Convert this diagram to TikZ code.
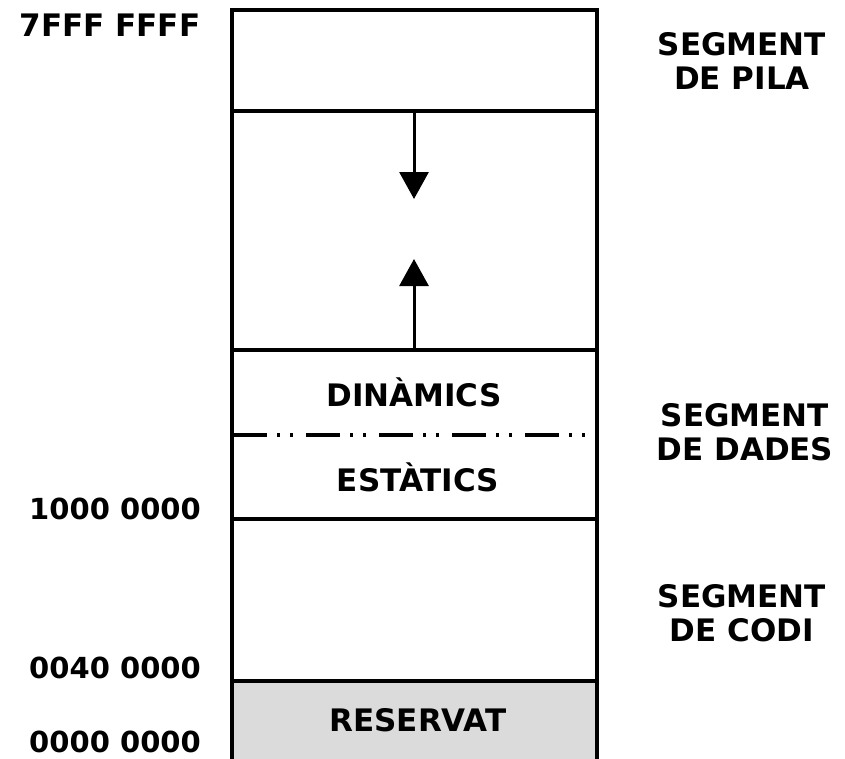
\documentclass[tikz,border=0pt]{standalone}
\usepackage{fontspec}
\setmainfont{DejaVu Sans}
\usetikzlibrary{arrows.meta}
\begin{document}
\begin{tikzpicture}[x=1pt,y=-1pt,
  seg/.style={draw=black,line width=3.5pt},
  lbl/.style={font=\fontsize{31}{34}\selectfont\bfseries,align=center,inner sep=0pt},
  addr/.style={font=\fontsize{29}{32}\selectfont\bfseries,inner sep=0pt},
  growth/.style={line width=3pt,-{Triangle[length=27pt,width=29pt]}}]
\useasboundingbox (0,0) rectangle (845,758);
% memory column
\fill[gray!28] (232,681) rectangle (597,762);
\draw[seg] (232,762) -- (232,10) -- (597,10) -- (597,762);
\draw[seg] (232,111) -- (597,111);
\draw[seg] (232,350) -- (597,350);
\draw[seg] (232,519) -- (597,519);
\draw[seg] (232,681) -- (597,681);
% boundary between dynamic and static data
\draw[line width=3.5pt,dash pattern=on 34pt off 10pt on 3pt off 10pt on 3pt off 13pt] (233,435) -- (596,435);
% stack and heap growth
\coordinate (stacktop) at (414,111);
\coordinate (stacktip) at (414,199);
\coordinate (heapbot) at (414,350);
\coordinate (heaptip) at (414,259);
\draw[growth] (stacktop) -- (stacktip);
\draw[growth] (heapbot) -- (heaptip);
% region labels
\node[lbl] (din) at (414,392) {DINÀMICS};
\node[lbl] (est) at (418,477) {ESTÀTICS};
\node[lbl] (res) at (418,720) {RESERVAT};
% segment names
\node[lbl] (pila) at (742,61) {SEGMENT\\DE PILA};
\node[lbl] (dades) at (745,432) {SEGMENT\\DE DADES};
\node[lbl] (codi) at (742,613) {SEGMENT\\DE CODI};
% addresses
\node[addr,font=\fontsize{31}{34}\selectfont\bfseries] (a1) at (110,25) {7FFF FFFF};
\node[addr] (a2) at (115,509) {1000 0000};
\node[addr] (a3) at (115,668) {0040 0000};
\node[addr,anchor=base] (a4) at (115,752) {0000 0000};
\end{tikzpicture}
\end{document}
